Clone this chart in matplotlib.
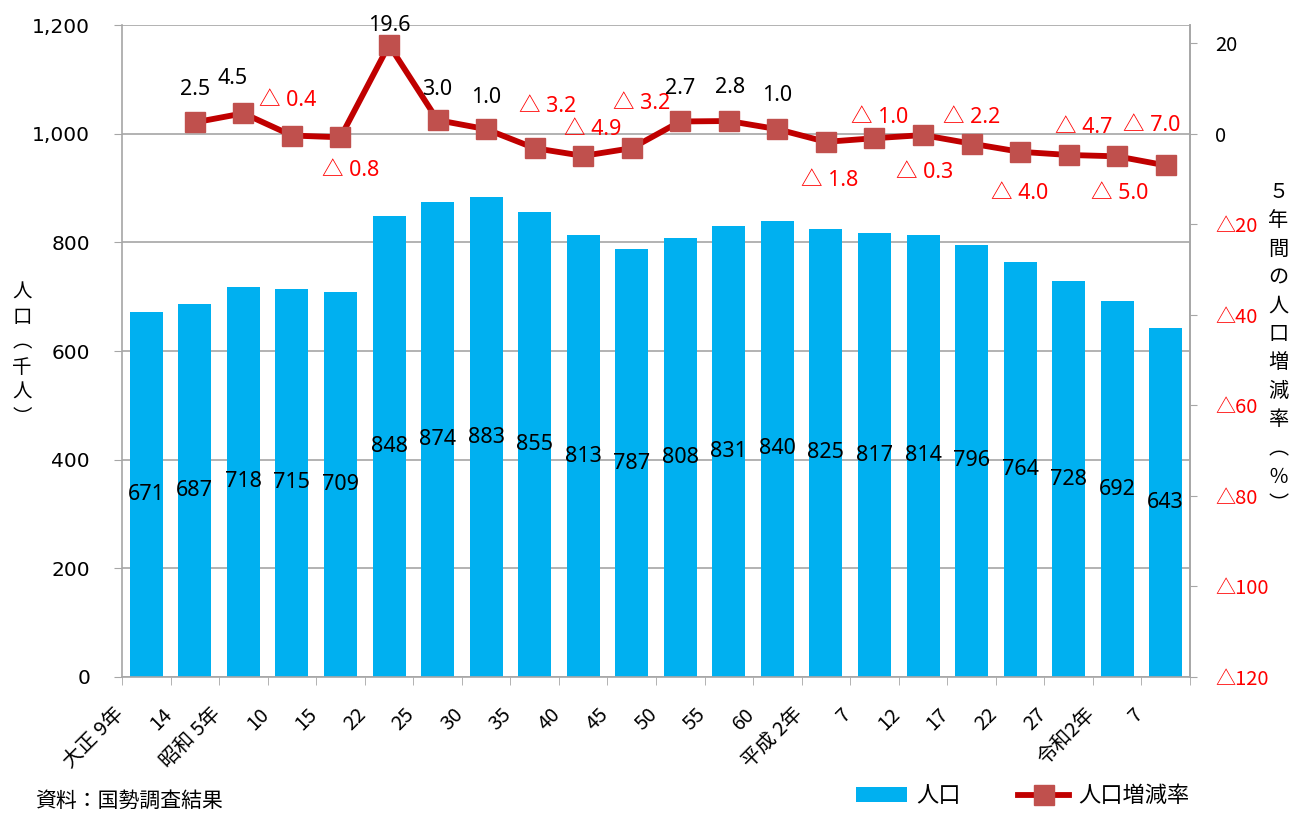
import numpy as np
import matplotlib
matplotlib.use("Agg")
import matplotlib.pyplot as plt
from matplotlib.lines import Line2D
from matplotlib.patches import Patch
from matplotlib.transforms import ScaledTranslation

plt.rcParams['font.family'] = ['Noto Sans CJK JP', 'DejaVu Sans']

# data
years = ["大正 9年", "14", "昭和 5年", "10", "15", "22", "25", "30", "35", "40", "45",
         "50", "55", "60", "平成 2年", "7", "12", "17", "22", "27", "令和2年", "7"]
population = [671, 687, 718, 715, 709, 848, 874, 883, 855, 813, 787,
              808, 831, 840, 825, 817, 814, 796, 764, 728, 692, 643]
rate = [np.nan, 2.5, 4.5, -0.4, -0.8, 19.6, 3.0, 1.0, -3.2, -4.9, -3.2,
        2.7, 2.8, 1.0, -1.8, -1.0, -0.3, -2.2, -4.0, -4.7, -5.0, -7.0]
# label offsets (points) for the rate labels
label_off = [None, (0, 24), (-8, 25), (-3, 25), (7, -24), (0, 14), (0, 22), (0, 23),
             (9, 30), (7, 19), (7, 32), (0, 24), (1, 24), (0, 24), (3, -28), (4, 15),
             (1, -27), (0, 19), (0, -30), (11, 20), (2, -27), (-10, 29)]

x = np.arange(len(years))
grid_c = "#A6A6A6"
tick_font = ['DejaVu Sans', 'Noto Sans CJK JP']
num_font = ['Noto Sans', 'Noto Sans CJK JP']


def vertical_text(fig, xc, ytop, text, pitch_px, size):
    # stack characters top to bottom
    y = ytop
    for ch in text:
        fig.text(xc, y, ch, ha="center", va="center", fontsize=size)
        y -= pitch_px / fig.bbox.height


fig = plt.figure(figsize=(12.98, 8.13), dpi=100)
ax = fig.add_axes([0.094, 0.1673, 0.8228, 0.8019])
ax.bar(x, population, width=0.68, color="#00B0F0", zorder=2)
for xi, v in zip(x, population):
    ax.text(xi, v / 2, str(v), ha="center", va="center", fontsize=15.5, color="black",
            family=num_font, zorder=3)

ax.set_xlim(-0.5, len(years) - 0.5)
ax.set_ylim(0, 1200)
ax.set_yticks(range(0, 1201, 200))
ax.set_yticklabels([f"{v:,}" for v in range(0, 1201, 200)], fontsize=14.5, family=tick_font)
ax.yaxis.grid(True, color=grid_c, lw=1.2)
ax.set_axisbelow(True)
ax.set_xticks(x)
ax.set_xticklabels(years, rotation=45, ha="right", va="center", rotation_mode="anchor",
                   fontsize=14.5)
ax.tick_params(axis="x", length=0, pad=0)
shift = ScaledTranslation(-0.26, -0.34, fig.dpi_scale_trans)
for lab in ax.get_xticklabels():
    lab.set_transform(lab.get_transform() + shift)
ax.set_xticks(np.arange(-0.5, len(years), 1), minor=True)
ax.tick_params(axis="x", which="minor", length=6, color=grid_c)
ax.tick_params(axis="y", length=6, color=grid_c, pad=17)
for s in ["left", "bottom", "right"]:
    ax.spines[s].set_color(grid_c)
    ax.spines[s].set_linewidth(1.2)
ax.spines["top"].set_visible(False)

ax2 = ax.twinx()
ax2.plot(x, rate, color="#C00000", lw=4.2, marker="s", markersize=14.5,
         markerfacecolor="#C0504D", markeredgecolor="#C0504D", zorder=4)
ax2.set_ylim(-120, 24)
rticks = list(range(20, -121, -20))
ax2.set_yticks(rticks)
ax2.set_yticklabels([str(t) if t >= 0 else f"△{-t}" for t in rticks], fontsize=14.5,
                    family=['Noto Sans CJK JP'])
for lab, t in zip(ax2.get_yticklabels(), rticks):
    lab.set_color("black" if t >= 0 else "red")
ax2.tick_params(axis="y", length=5, color=grid_c, pad=13)
for s in ["left", "bottom", "top"]:
    ax2.spines[s].set_visible(False)
ax2.spines["right"].set_color(grid_c)
ax2.spines["right"].set_linewidth(1.2)

for xi, r, off in zip(x, rate, label_off):
    if off is None:
        continue
    if r >= 0:
        txt, col = f"{r:.1f}", "black"
    else:
        txt, col = f"△ {-r:.1f}", "red"
    ax2.annotate(txt, (xi, r), xytext=off, textcoords="offset points",
                 ha="center", va="center", fontsize=15.5, color=col, family=num_font,
                 zorder=5)

# axis titles (vertical stacked, vertical-form parentheses)
vertical_text(fig, 0.017, 1 - 292 / 813, "人口︵千人︶", 25, 14)
vertical_text(fig, 0.985, 1 - 192 / 813, "５年間の人口増減率︵％︶", 28.5, 14.5)

# legend
handles = [Patch(facecolor="#00B0F0", edgecolor="none"),
           Line2D([0], [0], color="#C00000", lw=4.2, marker="s", markersize=14,
                  markerfacecolor="#C0504D", markeredgecolor="#C0504D")]
fig.legend(handles, ["人口", "人口増減率"], loc="center", bbox_to_anchor=(0.788, 0.021),
           ncol=2, frameon=False, fontsize=16, handlelength=2.3, handleheight=0.7,
           columnspacing=2.6, handletextpad=0.4, borderpad=0.2)

fig.text(0.027, 0.002, "資料：国勢調査結果", ha="left", va="bottom", fontsize=15)

fig.savefig("out.png", dpi=100)
